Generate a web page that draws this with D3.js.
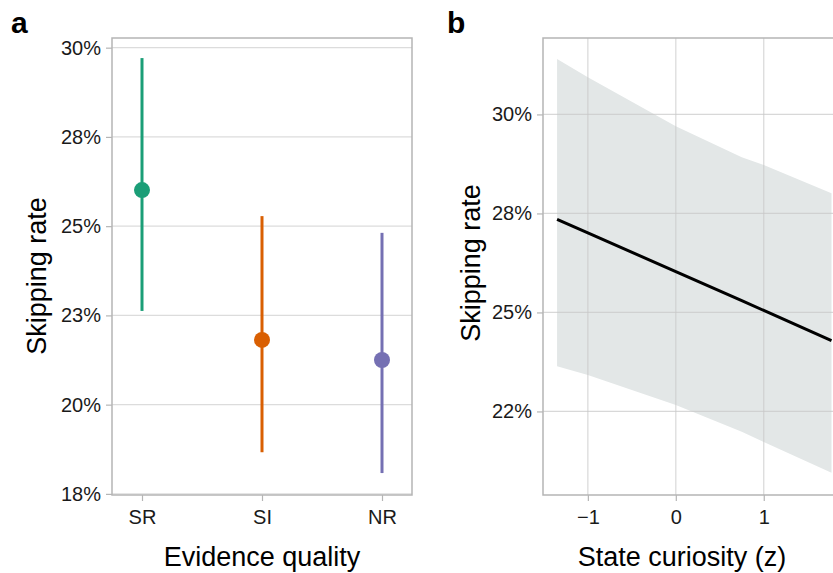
<!DOCTYPE html>
<html>
<head>
<meta charset="utf-8">
<script src="https://cdn.jsdelivr.net/npm/d3@7"></script>
<style>
  body { margin: 0; background: #fff; }
  svg { font-family: "Liberation Sans", Arial, sans-serif; }
</style>
</head>
<body>
<script>
// panel a: estimated marginal means by evidence quality
const categories = ["SR", "SI", "NR"];
const rates = [0.2617, 0.2214, 0.2160];
const lower = [0.2292, 0.1912, 0.1856];
const upper = [0.2972, 0.2547, 0.2502];
const colors = ["#1b9e77", "#d95f02", "#7570b3"];
const ticksA = [0.18, 0.204, 0.228, 0.252, 0.276, 0.30];
const tickLabelsA = ["18%", "20%", "23%", "25%", "28%", "30%"];

// panel b: fitted line with ribbon over state curiosity
const curiosity = [-1.35, -1, 0, 0.75, 1, 1.77];
const fitB = [0.2735, 0.2701, 0.2603, 0.2530, 0.2505, 0.2429];
const ribLow = [0.2364, 0.2342, 0.2266, 0.2199, 0.2173, 0.2095];
const ribHigh = [0.3140, 0.3094, 0.2970, 0.2892, 0.2872, 0.2801];
const ticksBx = [-1, 0, 1];
const tickLabelsBx = ["\u22121", "0", "1"];
const ticksBy = [0.225, 0.25, 0.275, 0.30];
const tickLabelsBy = ["22%", "25%", "28%", "30%"];

const W = 833, H = 573;
const svg = d3.select("body").append("svg")
    .attr("width", W)
    .attr("height", H);

const gridCol = "#dcdcdc", borderCol = "#b5b5b5";

function styleAxis(g) {
    g.select(".domain").remove();
    g.selectAll(".tick line").attr("stroke", borderCol).attr("stroke-width", 1.2);
    g.selectAll(".tick text").attr("font-size", "20px").attr("fill", "#1a1a1a");
}

// ---------- panel a ----------
const a = {left: 112, right: 412, top: 38, bottom: 495};
const xA = d3.scalePoint().domain(categories).range([a.left, a.right]).padding(0.25);
const yA = d3.scaleLinear().domain([0.1797, 0.3026]).range([a.bottom, a.top]);

svg.append("g").selectAll("line")
    .data(ticksA).enter()
    .append("line")
    .attr("x1", a.left).attr("x2", a.right)
    .attr("y1", d => yA(d)).attr("y2", d => yA(d))
    .attr("stroke", gridCol).attr("stroke-width", 1.2);

svg.append("g")
    .attr("transform", "translate(" + a.left + ",0)")
    .call(d3.axisLeft(yA).tickValues(ticksA).tickSize(6).tickPadding(5)
        .tickFormat((d, i) => tickLabelsA[i]))
    .call(styleAxis);

svg.append("g")
    .attr("transform", "translate(0," + a.bottom + ")")
    .call(d3.axisBottom(xA).tickSize(6).tickPadding(9))
    .call(styleAxis);

svg.append("rect")
    .attr("x", a.left).attr("y", a.top)
    .attr("width", a.right - a.left).attr("height", a.bottom - a.top)
    .attr("fill", "none").attr("stroke", borderCol).attr("stroke-width", 1.5);

svg.append("g").selectAll("line")
    .data(categories).enter()
    .append("line")
    .attr("x1", d => xA(d)).attr("x2", d => xA(d))
    .attr("y1", (d, i) => yA(lower[i])).attr("y2", (d, i) => yA(upper[i]))
    .attr("stroke", (d, i) => colors[i]).attr("stroke-width", 3);

svg.append("g").selectAll("circle")
    .data(categories).enter()
    .append("circle")
    .attr("cx", d => xA(d))
    .attr("cy", (d, i) => yA(rates[i]))
    .attr("r", 8)
    .attr("fill", (d, i) => colors[i]);

svg.append("text")
    .attr("transform", "translate(46,276) rotate(-90)")
    .attr("text-anchor", "middle")
    .attr("font-size", "27px")
    .text("Skipping rate");

svg.append("text")
    .attr("x", (a.left + a.right) / 2).attr("y", 566)
    .attr("text-anchor", "middle")
    .attr("font-size", "27px")
    .text("Evidence quality");

svg.append("text")
    .attr("x", 11).attr("y", 33)
    .attr("font-size", "30px").attr("font-weight", "bold")
    .text("a");

// ---------- panel b ----------
const b = {left: 543, right: 835, top: 38, bottom: 495};
const xB = d3.scaleLinear().domain([-1.51, 1.81]).range([b.left, b.right]);
const yB = d3.scaleLinear().domain([0.2039, 0.3193]).range([b.bottom, b.top]);

const ribbonData = curiosity.map((c, i) => ({x: c, lo: ribLow[i], hi: ribHigh[i], fit: fitB[i]}));

svg.append("path")
    .datum(ribbonData)
    .attr("d", d3.area().x(d => xB(d.x)).y0(d => yB(d.lo)).y1(d => yB(d.hi)))
    .attr("fill", "#e3e7e7");

const gridB = svg.append("g");
gridB.selectAll("line.h")
    .data(ticksBy).enter()
    .append("line")
    .attr("x1", b.left).attr("x2", b.right)
    .attr("y1", d => yB(d)).attr("y2", d => yB(d))
    .attr("stroke", "#c8c8c8").attr("stroke-opacity", 0.7).attr("stroke-width", 1.2);
gridB.selectAll("line.v")
    .data(ticksBx).enter()
    .append("line")
    .attr("y1", b.top).attr("y2", b.bottom)
    .attr("x1", d => xB(d)).attr("x2", d => xB(d))
    .attr("stroke", "#c8c8c8").attr("stroke-opacity", 0.7).attr("stroke-width", 1.2);

svg.append("g")
    .attr("transform", "translate(" + b.left + ",0)")
    .call(d3.axisLeft(yB).tickValues(ticksBy).tickSize(6).tickPadding(5)
        .tickFormat((d, i) => tickLabelsBy[i]))
    .call(styleAxis);

svg.append("g")
    .attr("transform", "translate(0," + b.bottom + ")")
    .call(d3.axisBottom(xB).tickValues(ticksBx).tickSize(6).tickPadding(9)
        .tickFormat((d, i) => tickLabelsBx[i]))
    .call(styleAxis);

svg.append("rect")
    .attr("x", b.left).attr("y", b.top)
    .attr("width", b.right - b.left).attr("height", b.bottom - b.top)
    .attr("fill", "none").attr("stroke", borderCol).attr("stroke-width", 1.5);

svg.append("path")
    .datum(ribbonData)
    .attr("d", d3.line().x(d => xB(d.x)).y(d => yB(d.fit)))
    .attr("fill", "none")
    .attr("stroke", "#000")
    .attr("stroke-width", 3);

svg.append("text")
    .attr("transform", "translate(480,263) rotate(-90)")
    .attr("text-anchor", "middle")
    .attr("font-size", "27px")
    .text("Skipping rate");

svg.append("text")
    .attr("x", 682).attr("y", 566)
    .attr("text-anchor", "middle")
    .attr("font-size", "27px")
    .text("State curiosity (z)");

svg.append("text")
    .attr("x", 447).attr("y", 33)
    .attr("font-size", "30px").attr("font-weight", "bold")
    .text("b");
</script>
</body>
</html>
